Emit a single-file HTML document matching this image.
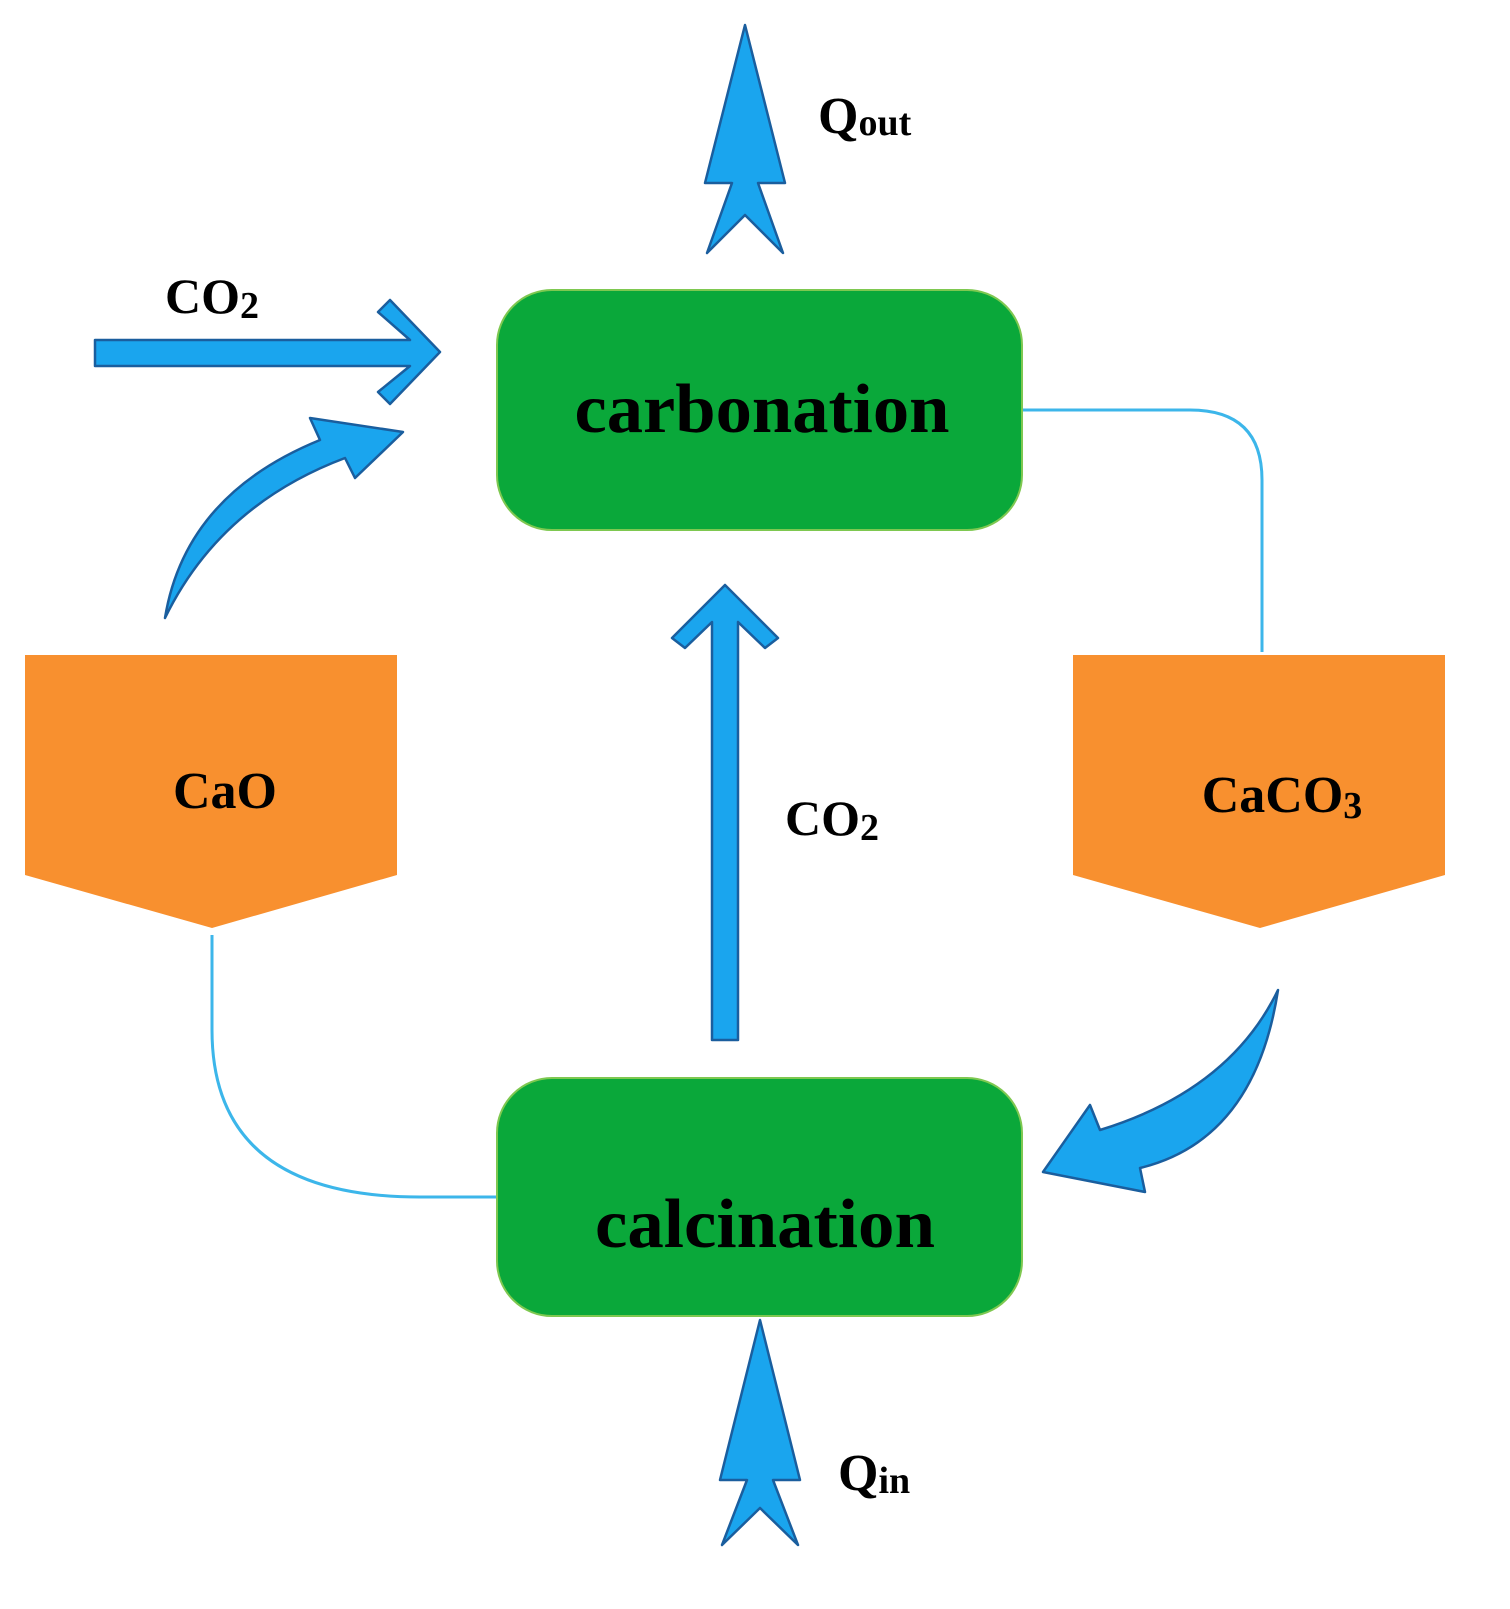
<!DOCTYPE html>
<html><head><meta charset="utf-8"><style>
html,body{margin:0;padding:0;background:#fff}
svg{display:block}
text{font-family:"Liberation Serif",serif;font-weight:bold;fill:#000}
</style></head><body>
<svg width="1510" height="1609" viewBox="0 0 1510 1609" xmlns="http://www.w3.org/2000/svg">
<g fill="none" stroke="#3cb6ea" stroke-width="3">
<path d="M212,935 L212,1030 Q212,1197 420,1197 L497,1197"/>
<path d="M1022,410 L1190,410 Q1262,410 1262,480 L1262,652"/>
</g>
<rect x="497" y="290" width="525" height="240" rx="55" fill="#0aa83a" stroke="#7ec850" stroke-width="2"/>
<rect x="497" y="1078" width="525" height="238" rx="55" fill="#0aa83a" stroke="#7ec850" stroke-width="2"/>
<text x="762" y="432" font-size="70" text-anchor="middle" textLength="375" lengthAdjust="spacingAndGlyphs">carbonation</text>
<text x="765" y="1247" font-size="70" text-anchor="middle" textLength="340" lengthAdjust="spacingAndGlyphs">calcination</text>
<polygon points="25,655 397,655 397,875 212,928 25,875" fill="#f8902f"/>
<polygon points="1073,655 1445,655 1445,875 1260,928 1073,875" fill="#f8902f"/>
<text x="225" y="808" font-size="52" text-anchor="middle">CaO</text>
<text x="1282" y="812" font-size="52" text-anchor="middle">CaCO<tspan font-size="38" dy="6">3</tspan></text>
<g fill="#1aa5ee" stroke="#1a5e9e" stroke-width="2.5" stroke-linejoin="round">
<polygon points="725,585 778,638 765,648 738,622 738,1040 712,1040 712,622 685,648 672,638"/>
<polygon points="440,352 390,300 378,312 410,340 95,340 95,366 410,366 378,392 390,404"/>
<polygon points="745,25 785,183 758,183 783,253 745,215 707,253 732,183 705,183"/>
<polygon points="760,1320 800,1480 773,1480 798,1545 760,1508 722,1545 747,1480 720,1480"/>
<path d="M165,618 Q185,495 320,440 L310,418 L403,432 L355,478 L345,458 Q220,505 165,618 Z"/>
<path d="M1278,990 Q1255,1140 1140,1168 L1145,1192 L1043,1172 L1090,1105 L1100,1130 Q1230,1090 1278,990 Z"/>
</g>
<text x="165" y="313" font-size="50">CO<tspan font-size="38" dy="5">2</tspan></text>
<text x="785" y="835" font-size="50">CO<tspan font-size="38" dy="5">2</tspan></text>
<text x="818" y="133" font-size="52">Q<tspan font-size="38" dy="2">out</tspan></text>
<text x="838" y="1490" font-size="52">Q<tspan font-size="38" dy="3">in</tspan></text>
</svg>
</body></html>
